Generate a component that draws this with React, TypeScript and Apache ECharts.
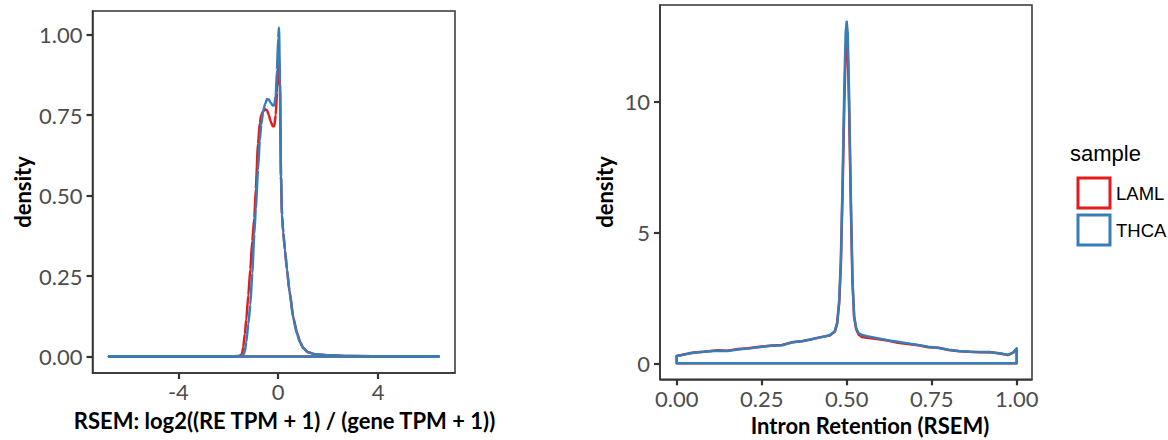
import React, { useEffect, useRef } from "react";
import * as echarts from "echarts";

const RED = "#E41A1C";
const BLUE = "#377EB8";

// Left panel: RSEM log2 ratio density
const leftX = [-6.78, -4, -2, -1.6, -1.5, -1.45, -1.4, -1.34, -1.28, -1.2, -1.12, -1.04, -0.96, -0.9, -0.81, -0.74, -0.68, -0.6, -0.52, -0.45, -0.38, -0.3, -0.22, -0.16, -0.1, -0.05, 0.0, 0.03, 0.07, 0.11, 0.15, 0.2, 0.27, 0.35, 0.45, 0.61, 0.75, 0.88, 1.0, 1.2, 1.5, 2.0, 3.0, 4.5, 6.42];
const leftTHCA = [0, 0, 0.0005, 0.001, 0.002, 0.003, 0.005, 0.015, 0.045, 0.1, 0.16, 0.26, 0.38, 0.46, 0.58, 0.67, 0.72, 0.765, 0.785, 0.8, 0.798, 0.788, 0.78, 0.78, 0.81, 0.89, 0.99, 1.022, 0.85, 0.56, 0.44, 0.385, 0.33, 0.27, 0.2, 0.115, 0.07, 0.043, 0.026, 0.013, 0.007, 0.004, 0.0015, 0.0005, 0];
const leftLAML = [0, 0, 0.0005, 0.002, 0.004, 0.008, 0.03, 0.07, 0.115, 0.19, 0.27, 0.36, 0.43, 0.52, 0.66, 0.725, 0.75, 0.763, 0.768, 0.765, 0.75, 0.73, 0.715, 0.715, 0.75, 0.82, 0.9, 0.93, 0.83, 0.56, 0.44, 0.385, 0.33, 0.27, 0.205, 0.12, 0.075, 0.045, 0.027, 0.013, 0.007, 0.004, 0.0015, 0.0005, 0];

// Right panel: Intron Retention density
const rightX = [0, 0.01, 0.035, 0.05, 0.08, 0.12, 0.15, 0.18, 0.21, 0.245, 0.28, 0.31, 0.34, 0.37, 0.39, 0.42, 0.45, 0.465, 0.472, 0.478, 0.483, 0.488, 0.493, 0.497, 0.5, 0.503, 0.507, 0.512, 0.517, 0.522, 0.528, 0.535, 0.545, 0.56, 0.59, 0.62, 0.65, 0.68, 0.71, 0.74, 0.77, 0.8, 0.83, 0.86, 0.89, 0.92, 0.95, 0.975, 0.99, 1.0];
const rightTHCA = [0.28, 0.3, 0.37, 0.4, 0.44, 0.48, 0.47, 0.53, 0.56, 0.62, 0.67, 0.69, 0.8, 0.84, 0.9, 0.98, 1.07, 1.22, 1.55, 2.4, 4.0, 7.0, 10.5, 12.6, 13.04, 12.6, 10.3, 6.5, 3.2, 1.8, 1.35, 1.15, 1.08, 1.03, 0.96, 0.88, 0.82, 0.76, 0.7, 0.63, 0.58, 0.52, 0.47, 0.44, 0.43, 0.42, 0.38, 0.32, 0.42, 0.57];
const rightLAML = [0.28, 0.31, 0.37, 0.41, 0.44, 0.5, 0.48, 0.55, 0.57, 0.63, 0.68, 0.7, 0.8, 0.85, 0.9, 0.99, 1.06, 1.2, 1.5, 2.3, 3.8, 6.6, 9.9, 11.9, 12.4, 12.0, 9.8, 6.2, 3.1, 1.75, 1.3, 1.1, 1.0, 0.97, 0.93, 0.87, 0.78, 0.74, 0.69, 0.61, 0.59, 0.51, 0.46, 0.44, 0.42, 0.43, 0.37, 0.32, 0.41, 0.55];

const leftXTicks = [-4, 0, 4];
const leftYTicks = [0, 0.25, 0.5, 0.75, 1.0];
const rightXTicks = [0, 0.25, 0.5, 0.75, 1.0];
const rightYTicks = [0, 5, 10];
const samples = ["LAML", "THCA"];

const zip = (xs: number[], ys: number[]) => xs.map((x, i) => [x, ys[i]]);
const polygon = (xs: number[], ys: number[]) => [
  [xs[0], 0],
  ...zip(xs, ys),
  [xs[xs.length - 1], 0],
  [xs[0], 0],
];

const tickFont = "Lato, 'Open Sans', sans-serif";

function axisCommon(ticks: number[], fmt: (v: number) => string, margin: number) {
  return {
    type: "value" as const,
    axisLine: { show: true, onZero: false, lineStyle: { color: "#333", width: 1.5 } },
    splitLine: { show: false },
    axisTick: {
      show: true,
      length: 6,
      customValues: ticks,
      lineStyle: { color: "#333", width: 2.2 },
    },
    axisLabel: {
      customValues: ticks,
      formatter: (v: number) => fmt(v),
      color: "#4d4d4d",
      fontSize: 22,
      fontFamily: tickFont,
      margin,
    },
  };
}

export default function App() {
  const ref = useRef<HTMLDivElement>(null);
  useEffect(() => {
    if (!ref.current) return;
    const chart = echarts.init(ref.current, null, { renderer: "svg" });
    const lineBase = (color: string, z: number) => ({
      type: "line" as const,
      showSymbol: false,
      symbol: "none",
      lineStyle: { color, width: 2.5, join: "round", cap: "round" },
      itemStyle: { color },
      z,
      silent: true,
    });
    const titleStyle = {
      fontFamily: tickFont,
      fontWeight: "bold",
      fontSize: 22,
      fill: "#000",
      align: "center",
      verticalAlign: "middle",
    };
    chart.setOption({
      animation: false,
      backgroundColor: "#fff",
      grid: [
        { left: 92.5, top: 11, width: 362.5, height: 362, show: true, borderColor: "#333", borderWidth: 1.5 },
        { left: 660, top: 5, width: 372, height: 374.3, show: true, borderColor: "#333", borderWidth: 1.5 },
      ],
      xAxis: [
        { gridIndex: 0, min: -7.44, max: 7.08, ...axisCommon(leftXTicks, (v) => String(v), 7) },
        { gridIndex: 1, min: -0.049, max: 1.045, ...axisCommon(rightXTicks, (v) => v.toFixed(2), 8) },
      ],
      yAxis: [
        { gridIndex: 0, min: -0.0511, max: 1.0732, ...axisCommon(leftYTicks, (v) => v.toFixed(2), 10) },
        { gridIndex: 1, min: -0.611, max: 13.676, ...axisCommon(rightYTicks, (v) => String(v), 10) },
      ],
      legend: {
        orient: "vertical",
        left: 1071.5,
        top: 171.5,
        itemWidth: 32,
        itemHeight: 30,
        itemGap: 4,
        icon: "rect",
        selectedMode: false,
        textStyle: { fontSize: 18.5, fontFamily: "'Liberation Sans', Arial, sans-serif", color: "#000", padding: [0, 0, 0, 1] },
        data: [
          { name: samples[0], itemStyle: { color: "#fff", borderColor: RED, borderWidth: 3 } },
          { name: samples[1], itemStyle: { color: "#fff", borderColor: BLUE, borderWidth: 3 } },
        ],
      },
      graphic: [
        { type: "text", x: 22, y: 192, rotation: Math.PI / 2, style: { ...titleStyle, text: "density" } },
        { type: "text", x: 604, y: 192, rotation: Math.PI / 2, style: { ...titleStyle, text: "density" } },
        { type: "text", x: 284.5, y: 420, style: { ...titleStyle, text: "RSEM: log2((RE TPM + 1) / (gene TPM + 1))" } },
        { type: "text", x: 870, y: 425, style: { ...titleStyle, text: "Intron Retention (RSEM)" } },
        { type: "text", x: 1070, y: 153, style: { text: "sample", fontFamily: "'Liberation Sans', Arial, sans-serif", fontSize: 22, fill: "#000", align: "left", verticalAlign: "middle" } },
      ],
      series: [
        { ...lineBase(RED, 2), name: samples[0], xAxisIndex: 0, yAxisIndex: 0, data: zip(leftX, leftLAML), smooth: 0.2, smoothMonotone: "x" },
        { ...lineBase(RED, 2), name: "LAML-base", xAxisIndex: 0, yAxisIndex: 0, data: [[leftX[0], 0], [leftX[leftX.length - 1], 0]] },
        { ...lineBase(RED, 2), name: samples[0], xAxisIndex: 1, yAxisIndex: 1, data: polygon(rightX, rightLAML) },
        { ...lineBase(BLUE, 3), name: samples[1], xAxisIndex: 0, yAxisIndex: 0, data: zip(leftX, leftTHCA), smooth: 0.2, smoothMonotone: "x" },
        { ...lineBase(BLUE, 3), name: "THCA-base", xAxisIndex: 0, yAxisIndex: 0, data: [[leftX[0], 0], [leftX[leftX.length - 1], 0]] },
        { ...lineBase(BLUE, 3), name: samples[1], xAxisIndex: 1, yAxisIndex: 1, data: polygon(rightX, rightTHCA) },
      ],
    });
    return () => chart.dispose();
  }, []);
  return (
    <div
      ref={ref}
      style={{ position: "absolute", left: 0, top: 0, width: 1168, height: 440 }}
    />
  );
}
